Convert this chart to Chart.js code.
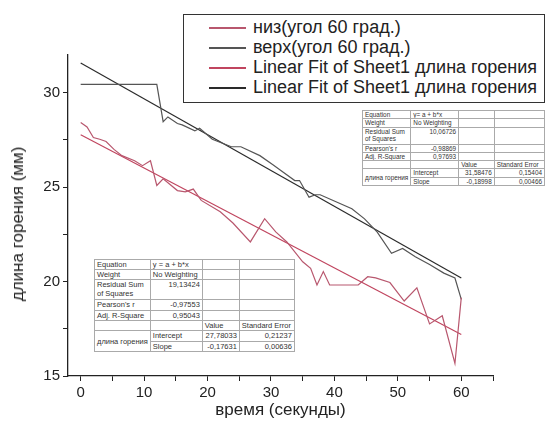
<!DOCTYPE html>
<html>
<head>
<meta charset="utf-8">
<script src="https://cdn.jsdelivr.net/npm/chart.js@4.4.1/dist/chart.umd.min.js"></script>
<style>
  body { margin: 0; background: #fff; overflow: hidden; }
  #wrap { position: relative; width: 545px; height: 430px; overflow: hidden; font-family: "Liberation Sans", Arial, sans-serif; }
  #legend { position: absolute; left: 183px; top: 14px; width: 362px; height: 89px; box-sizing: border-box;
    border: 1px solid #333; background: #fff; padding-top: 2px; font-size: 18px; color: #222; }
  #legend .row { position: relative; height: 20px; line-height: 20px; padding-left: 69px; white-space: nowrap; }
  #legend .sample { position: absolute; left: 25px; top: 10px; width: 37px; height: 2px; }
  #ytitle { position: absolute; left: 18px; top: 224px; transform: translate(-50%, -50%) rotate(-90deg);
    white-space: nowrap; font-size: 17px; color: #222; }
  table.fit { position: absolute; border-collapse: collapse; table-layout: fixed; background: #fff;
    border: 1px solid #444; color: #333; }
  table.fit td { border: 1px solid #aaa; padding: 0 2px; overflow: hidden; white-space: nowrap; vertical-align: top; }
  table.fit td.n { text-align: right; }
  #tabBottom { left: 94px; top: 259px; font-size: 7.5px; line-height: 9px; }
  #tabTop { left: 362px; top: 110px; font-size: 6.4px; line-height: 7.3px; }
</style>
</head>
<body>
<div id="wrap">
  <canvas id="myChart" width="545" height="430"></canvas>
  <div id="ytitle">длина горения (мм)</div>
  <div id="legend"></div>
  <table class="fit" id="tabTop">
    <colgroup><col style="width:48px"><col style="width:53px"><col style="width:40px"><col style="width:54px"></colgroup>
    <tr style="height:8px"><td>Equation</td><td>y= a + b*x</td><td></td><td></td></tr>
    <tr style="height:8px"><td>Weight</td><td>No Weighting</td><td></td><td></td></tr>
    <tr style="height:17px"><td style="white-space:normal">Residual Sum of Squares</td><td class="n">10,06726</td><td></td><td></td></tr>
    <tr style="height:8px"><td>Pearson's r</td><td class="n">-0,98869</td><td></td><td></td></tr>
    <tr style="height:8px"><td>Adj. R-Square</td><td class="n">0,97693</td><td></td><td></td></tr>
    <tr style="height:8px"><td></td><td></td><td>Value</td><td>Standard Error</td></tr>
    <tr style="height:7px"><td rowspan="2" style="vertical-align:middle">длина горения</td><td>Intercept</td><td class="n">31,58476</td><td class="n">0,15404</td></tr>
    <tr style="height:8px"><td>Slope</td><td class="n">-0,18998</td><td class="n">0,00466</td></tr>
  </table>
  <table class="fit" id="tabBottom">
    <colgroup><col style="width:54px"><col style="width:52px"><col style="width:37px"><col style="width:55px"></colgroup>
    <tr style="height:10px"><td>Equation</td><td>y = a + b*x</td><td></td><td></td></tr>
    <tr style="height:10px"><td>Weight</td><td>No Weighting</td><td></td><td></td></tr>
    <tr style="height:20px"><td style="white-space:normal">Residual Sum of Squares</td><td class="n">19,13424</td><td></td><td></td></tr>
    <tr style="height:11px"><td>Pearson's r</td><td class="n">-0,97553</td><td></td><td></td></tr>
    <tr style="height:10px"><td>Adj. R-Square</td><td class="n">0,95043</td><td></td><td></td></tr>
    <tr style="height:10px"><td></td><td></td><td>Value</td><td>Standard Error</td></tr>
    <tr style="height:11px"><td rowspan="2" style="vertical-align:middle">длина горения</td><td>Intercept</td><td class="n">27,78033</td><td class="n">0,21237</td></tr>
    <tr style="height:10px"><td>Slope</td><td class="n">-0,17631</td><td class="n">0,00636</td></tr>
  </table>
</div>
<script>
// низ (угол 60 град.) - time, s / burn length, mm
const timeBottom = [0, 1, 2, 3, 4, 5.25, 6.5, 8.5, 9.75, 11, 12, 13, 15.25, 16.5, 17.75, 19, 22, 24, 26.75,
  29, 30.75, 32.5, 35, 36.25, 37.25, 38.25, 39.25, 43.75, 45.25, 46.5, 48.75, 51, 53, 55, 57, 59, 60];
const lengthBottom = [28.42, 28.19, 27.63, 27.54, 27.42, 27.0, 26.67, 26.4, 26.14, 26.4, 25.09, 25.44, 24.82, 24.75, 24.9, 24.3, 23.7, 23.1, 22.1,
  23.33, 22.63, 22.1, 21.05, 20.7, 19.82, 20.53, 19.82, 19.82, 20.26, 20.2, 19.95, 18.97, 19.67, 17.76, 18.19, 15.67, 19.15];

// верх (угол 60 град.)
const timeTop = [0, 12, 13, 13.75, 15.25, 16, 18, 18.75, 20.75, 23.75, 25.25, 28.25, 30.25, 31.5, 33.75, 34.5,
  36, 37, 37.75, 42.75, 44.75, 46.75, 49, 50.75, 52.75, 55, 57.25, 59, 60];
const lengthTop = [30.44, 30.44, 28.47, 28.72, 28.37, 28.3, 27.98, 28.12, 27.54, 27.14, 27.14, 26.67, 26.2, 25.9, 25.35, 25.35,
  24.47, 24.6, 24.6, 23.86, 23.32, 22.62, 21.5, 21.75, 21.32, 20.9, 20.45, 20.19, 19.06];

// linear fit end points
const fitTime = [0, 60];
const fitBottom = [27.78, 17.2];
const fitTop = [31.58, 20.19];

const xTickValues = [0, 5, 10, 15, 20, 25, 30, 35, 40, 45, 50, 55, 60, 65];
const yTickValues = [15, 17.5, 20, 22.5, 25, 27.5, 30];

const seriesLabels = ['низ(угол 60 град.)', 'верх(угол 60 град.)',
  'Linear Fit of Sheet1 длина горения', 'Linear Fit of Sheet1 длина горения'];

const red = '#c0455f';
const black = '#2a2a2a';
const font = '"Liberation Sans", Arial, sans-serif';

function pts(xs, ys) {
  return xs.map((x, i) => ({ x: x, y: ys[i] }));
}

function line(label, data, color, width) {
  return { label, data, borderColor: color, borderWidth: width, pointRadius: 0, tension: 0, fill: false };
}

const ctx = document.getElementById('myChart').getContext('2d');
const myChart = new Chart(ctx, {
  type: 'line',
  data: {
    datasets: [
      line(seriesLabels[0], pts(timeBottom, lengthBottom), '#b8576e', 1.2),
      line(seriesLabels[1], pts(timeTop, lengthTop), '#555', 1.2),
      line(seriesLabels[2], pts(fitTime, fitBottom), red, 1.2),
      line(seriesLabels[3], pts(fitTime, fitTop), black, 1.2),
    ]
  },
  options: {
    responsive: false,
    animation: false,
    layout: { padding: { top: 55, right: 52, left: 0, bottom: 0 } },
    plugins: { legend: { display: false }, tooltip: { enabled: false } },
    scales: {
      x: {
        type: 'linear', min: -2, max: 65,
        afterBuildTicks: (s) => { s.ticks = xTickValues.map(v => ({ value: v })); },
        afterFit: (s) => { s.height = 54; },
        ticks: { autoSkip: false, maxRotation: 0, padding: 3, color: '#222', font: { family: font, size: 15 },
          callback: (v) => (v % 10 === 0 ? String(v) : '') },
        grid: { drawOnChartArea: false, tickLength: 5, tickColor: '#222' },
        border: { color: '#222', width: 1.3 },
        title: { display: true, text: 'время (секунды)', color: '#222', font: { family: font, size: 17 },
          padding: { top: 0, bottom: 9 } }
      },
      y: {
        type: 'linear', min: 15, max: 32,
        afterBuildTicks: (s) => { s.ticks = yTickValues.map(v => ({ value: v })); },
        afterFit: (s) => { s.width = 68; },
        ticks: { autoSkip: false, padding: 3, color: '#222', font: { family: font, size: 15 },
          callback: (v) => (v % 5 === 0 ? String(v) : '') },
        grid: { drawOnChartArea: false, tickLength: 5, tickColor: '#222' },
        border: { color: '#222', width: 1.3 }
      }
    }
  }
});

// legend box built from the datasets
const legend = document.getElementById('legend');
myChart.data.datasets.forEach((ds) => {
  const row = document.createElement('div');
  row.className = 'row';
  const sample = document.createElement('span');
  sample.className = 'sample';
  sample.style.background = ds.borderColor;
  row.appendChild(sample);
  row.appendChild(document.createTextNode(ds.label));
  legend.appendChild(row);
});
</script>
</body>
</html>
